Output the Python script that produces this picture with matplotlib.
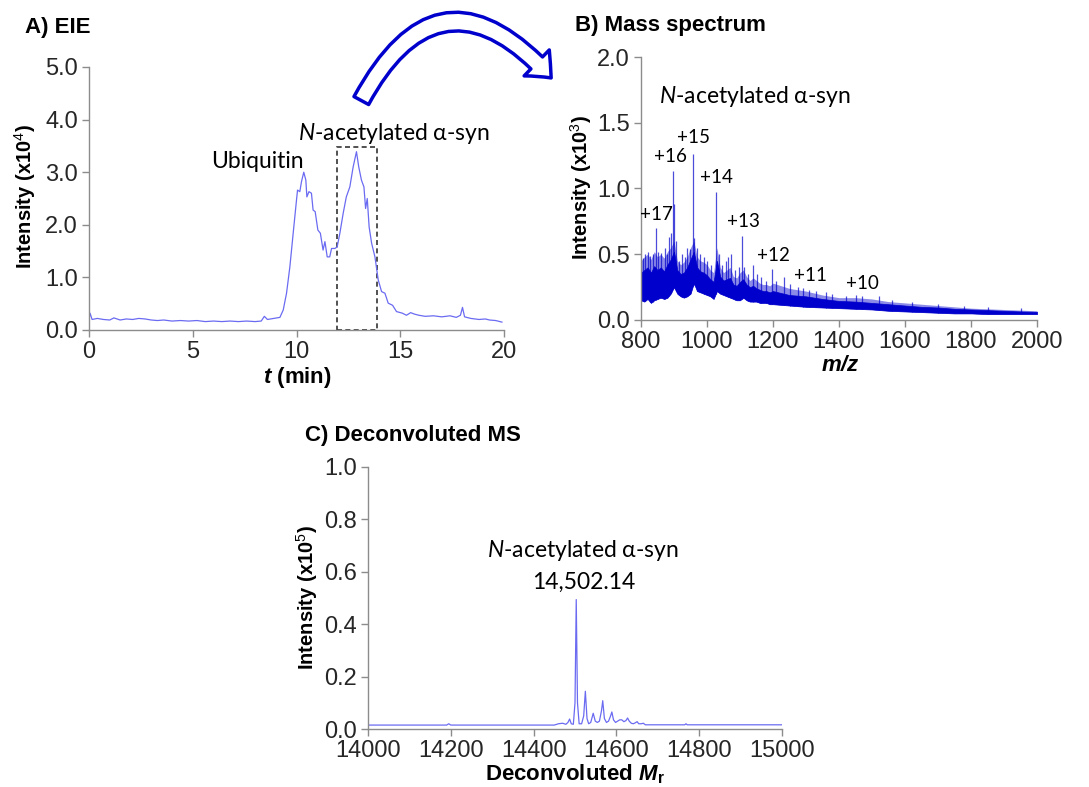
#three panel figure: EIE, mass spectrum, deconvoluted MS
import matplotlib
matplotlib.use("Agg")
import numpy as np
import matplotlib.pyplot as plt
from matplotlib.patches import FancyArrowPatch, Rectangle

plt.rcParams['font.family'] = ['Liberation Sans', 'DejaVu Sans']
plt.rcParams['mathtext.fontset'] = 'custom'
plt.rcParams['mathtext.rm'] = 'Liberation Sans'
plt.rcParams['mathtext.it'] = 'Lato:italic'
plt.rcParams['mathtext.bf'] = 'Liberation Sans:bold'
plt.rcParams['mathtext.bfit'] = 'Liberation Sans:bold:italic'

# A) EIE chromatogram (t in min, intensity x10^4)
eie_t = [0, 0.05, 0.15, 0.4, 0.7, 1.0, 1.2, 1.5, 1.8, 2.1, 2.4, 2.7, 3.0, 3.3, 3.6,
         4.0, 4.4, 4.8, 5.2, 5.6, 6.0, 6.4, 6.8, 7.2, 7.6, 8.0, 8.3, 8.45, 8.6, 8.9,
         9.2, 9.36, 9.52, 9.68, 9.84, 10.0, 10.05, 10.16, 10.24, 10.35, 10.45, 10.5,
         10.6, 10.72, 10.8, 10.9, 11.03, 11.15, 11.28, 11.37, 11.48, 11.6, 11.69,
         11.85, 11.96, 12.09, 12.25, 12.4, 12.57, 12.73, 12.89, 13.0, 13.13, 13.25,
         13.33, 13.41, 13.5, 13.62, 13.78, 13.94, 14.1, 14.26, 14.42, 14.63, 14.82,
         15.1, 15.3, 15.5, 15.7, 15.9, 16.2, 16.6, 17.0, 17.4, 17.7, 17.9, 18.0,
         18.1, 18.4, 18.8, 19.1, 19.3, 19.6, 19.9]
eie_i = [0.2, 0.32, 0.2, 0.22, 0.2, 0.19, 0.23, 0.19, 0.21, 0.2, 0.22, 0.21, 0.19,
         0.18, 0.19, 0.17, 0.18, 0.17, 0.18, 0.16, 0.17, 0.16, 0.17, 0.16, 0.17,
         0.16, 0.17, 0.26, 0.2, 0.22, 0.24, 0.38, 0.7, 1.2, 1.84, 2.47, 2.66, 2.63,
         2.82, 3.0, 2.85, 2.53, 2.63, 2.6, 2.28, 2.25, 1.9, 1.84, 1.52, 1.68, 1.39,
         1.39, 1.55, 1.55, 1.58, 1.84, 2.22, 2.53, 2.72, 3.1, 3.39, 3.1, 2.85, 2.72,
         2.31, 2.5, 1.96, 1.65, 1.39, 0.95, 0.73, 0.7, 0.51, 0.47, 0.35, 0.32, 0.28,
         0.33, 0.3, 0.28, 0.26, 0.27, 0.25, 0.27, 0.24, 0.28, 0.43, 0.25, 0.22, 0.2,
         0.21, 0.19, 0.18, 0.15]

# B) mass spectrum: noise band (lower / dense core / light top) and spike peaks
ms_mz = [800, 810, 820, 830, 840, 850, 860, 870, 880, 890, 900, 910, 920, 930, 940,
         950, 960, 970, 980, 990, 1000, 1010, 1020, 1030, 1040, 1050, 1060, 1070,
         1080, 1090, 1100, 1110, 1120, 1130, 1140, 1150, 1160, 1170, 1180, 1190,
         1200, 1250, 1300, 1350, 1400, 1450, 1500, 1550, 1600, 1650, 1700, 1750,
         1800, 1850, 1900, 1950, 2000]
ms_lo = [0.15, 0.14, 0.16, 0.13, 0.15, 0.16, 0.17, 0.16, 0.17, 0.2, 0.25, 0.2, 0.18,
         0.17, 0.18, 0.2, 0.28, 0.22, 0.21, 0.2, 0.19, 0.18, 0.16, 0.22, 0.2, 0.19,
         0.18, 0.17, 0.16, 0.15, 0.15, 0.17, 0.15, 0.14, 0.14, 0.14, 0.13, 0.13,
         0.13, 0.12, 0.12, 0.11, 0.1, 0.095, 0.09, 0.085, 0.08, 0.07, 0.065, 0.06,
         0.055, 0.05, 0.05, 0.045, 0.045, 0.045, 0.045]
ms_core = [0.36, 0.38, 0.40, 0.36, 0.41, 0.38, 0.40, 0.37, 0.42, 0.46, 0.52, 0.38,
           0.35, 0.36, 0.40, 0.46, 0.52, 0.40, 0.37, 0.36, 0.34, 0.31, 0.29, 0.45,
           0.33, 0.30, 0.31, 0.32, 0.27, 0.26, 0.29, 0.31, 0.27, 0.25, 0.26, 0.24,
           0.23, 0.22, 0.22, 0.21, 0.22, 0.19, 0.18, 0.16, 0.145, 0.14, 0.13, 0.12,
           0.11, 0.10, 0.095, 0.085, 0.08, 0.075, 0.07, 0.065, 0.062]
ms_hi = [0.45, 0.48, 0.5, 0.46, 0.52, 0.48, 0.5, 0.47, 0.52, 0.55, 0.6, 0.45, 0.42,
         0.44, 0.48, 0.55, 0.6, 0.48, 0.45, 0.44, 0.42, 0.38, 0.36, 0.55, 0.4, 0.36,
         0.38, 0.4, 0.33, 0.32, 0.36, 0.38, 0.33, 0.3, 0.32, 0.3, 0.28, 0.27, 0.27,
         0.26, 0.28, 0.24, 0.22, 0.19, 0.17, 0.17, 0.16, 0.14, 0.13, 0.12, 0.11,
         0.1, 0.09, 0.085, 0.08, 0.075, 0.07]
spike_mz = [805, 812, 820, 828, 835, 845, 852, 860, 872, 878, 885, 891, 897, 900,
            906, 915, 925, 933, 940, 948, 957, 962, 970, 978, 990, 1000, 1012, 1026,
            1035, 1045, 1058, 1065, 1072, 1085, 1097, 1105, 1112, 1125, 1140, 1150,
            1165, 1180, 1197, 1210, 1232, 1250, 1275, 1290, 1308, 1330, 1360, 1380,
            1420, 1450, 1470, 1520, 1560, 1620, 1700, 1780, 1850, 1950]
spike_i = [0.47, 0.5, 0.52, 0.49, 0.5, 0.7, 0.52, 0.51, 0.55, 0.5, 0.63, 0.66, 1.13,
           0.88, 0.6, 0.45, 0.5, 0.48, 0.55, 0.54, 1.26, 0.62, 0.55, 0.5, 0.48, 0.45,
           0.42, 0.97, 0.5, 0.42, 0.45, 0.48, 0.5, 0.38, 0.4, 0.64, 0.4, 0.35, 0.42,
           0.35, 0.33, 0.3, 0.39, 0.3, 0.33, 0.27, 0.25, 0.24, 0.23, 0.22, 0.21, 0.2,
           0.18, 0.19, 0.18, 0.18, 0.15, 0.14, 0.12, 0.11, 0.1, 0.09]
charge_labels = ['+17', '+16', '+15', '+14', '+13', '+12', '+11', '+10']
charge_x = [846, 889, 959, 1028, 1110, 1201, 1314, 1470]
charge_y = [0.80, 1.24, 1.39, 1.08, 0.75, 0.49, 0.34, 0.28]

# C) deconvoluted spectrum (Mr, intensity x10^5)
dec_m = [14000, 14190, 14195, 14200, 14450, 14460, 14470, 14478, 14483, 14487,
         14491, 14496, 14500, 14503, 14506, 14510, 14516, 14521, 14525, 14529,
         14533, 14538, 14544, 14549, 14554, 14559, 14564, 14567, 14571, 14576,
         14581, 14586, 14589, 14593, 14598, 14603, 14608, 14613, 14618, 14623,
         14627, 14631, 14636, 14641, 14646, 14650, 14654, 14660, 14665, 14670,
         14765, 14768, 14771, 15000]
dec_i = [0.015, 0.015, 0.02, 0.015, 0.015, 0.02, 0.022, 0.018, 0.025, 0.038, 0.02,
         0.018, 0.1, 0.494, 0.1, 0.02, 0.02, 0.05, 0.144, 0.04, 0.02, 0.025, 0.06,
         0.03, 0.025, 0.03, 0.07, 0.108, 0.04, 0.025, 0.03, 0.05, 0.065, 0.035,
         0.025, 0.03, 0.035, 0.035, 0.028, 0.032, 0.042, 0.03, 0.022, 0.02, 0.024,
         0.028, 0.02, 0.02, 0.022, 0.016, 0.016, 0.02, 0.016, 0.016]

W, H = 1089, 787
fig = plt.figure(figsize=(W / 100, H / 100), dpi=100)


def px(x, y):
    return (x / W, 1 - y / H)


def add_ax(left, top, right, bottom):
    ax = fig.add_axes([left / W, 1 - bottom / H, (right - left) / W, (bottom - top) / H])
    for s in ['top', 'right']:
        ax.spines[s].set_visible(False)
    for s in ['left', 'bottom']:
        ax.spines[s].set_color('#8c8c8c')
        ax.spines[s].set_linewidth(1.0)
    ax.tick_params(direction='out', length=5, width=1, color='#8c8c8c',
                   labelsize=17, labelcolor='#262626', pad=3)
    return ax


light_blue = '#6b6bf2'
dark_blue = '#0000cc'
calibri = ['Lato', 'DejaVu Sans']

# panel A
axA = add_ax(89, 67, 504, 330)
axA.plot(eie_t, eie_i, color=light_blue, lw=0.9)
axA.add_patch(Rectangle((11.95, 0), 1.95, 3.48, fill=False, ls=(0, (3, 2)),
                        lw=1.2, ec='#333333'))
axA.set_xlim(0, 20)
axA.set_ylim(0, 5)
axA.set_xticks([0, 5, 10, 15, 20])
axA.set_yticks([0, 1, 2, 3, 4, 5])
axA.set_yticklabels(['0.0', '1.0', '2.0', '3.0', '4.0', '5.0'])
axA.text(8.1, 3.2, 'Ubiquitin', ha='center', va='center', fontsize=16.5, family=calibri)
axA.text(10.07, 3.73, r'$N$-acetylated α-syn', ha='left', va='center', fontsize=16.5,
         family=calibri)

# panel B
axB = add_ax(641, 57, 1037, 320)
axB.fill_between(ms_mz, ms_lo, ms_hi, color=dark_blue, lw=0, alpha=0.45)
axB.fill_between(ms_mz, ms_lo, ms_core, color=dark_blue, lw=0.5)
spike_base = np.interp(spike_mz, ms_mz, ms_lo)
axB.vlines(spike_mz, spike_base, spike_i, color=dark_blue, lw=0.9, alpha=0.7)
axB.set_xlim(800, 2000)
axB.set_ylim(0, 2)
axB.set_xticks(range(800, 2001, 200))
axB.set_yticks([0, 0.5, 1.0, 1.5, 2.0])
axB.set_yticklabels(['0.0', '0.5', '1.0', '1.5', '2.0'])
for lab, x, y in zip(charge_labels, charge_x, charge_y):
    axB.text(x, y, lab, ha='center', va='center', fontsize=13.5, family=calibri)
axB.text(855, 1.70, r'$N$-acetylated α-syn', ha='left', va='center', fontsize=16.5,
         family=calibri)

# panel C
axC = add_ax(368, 467, 782, 729)
axC.plot(dec_m, dec_i, color=light_blue, lw=0.9)
axC.set_xlim(14000, 15000)
axC.set_ylim(0, 1)
axC.set_xticks(range(14000, 15001, 200))
axC.set_yticks([0, 0.2, 0.4, 0.6, 0.8, 1.0])
axC.set_yticklabels(['0.0', '0.2', '0.4', '0.6', '0.8', '1.0'])
axC.text(14520, 0.68, r'$N$-acetylated α-syn', ha='center', va='center',
         fontsize=16.5, family=calibri)
axC.text(14520, 0.56, '14,502.14', ha='center', va='center', fontsize=16.5,
         family=calibri)

# titles and axis labels
fig.text(*px(25, 27), 'A) EIE', fontsize=16, weight='bold', va='center')
fig.text(*px(575, 26), 'B) Mass spectrum', fontsize=16, weight='bold', va='center')
fig.text(*px(305, 435), 'C) Deconvoluted MS', fontsize=16, weight='bold', va='center')

fig.text(*px(25, 197), r'Intensity (x10$^{4}$)', fontsize=14.5, weight='bold',
         rotation=90, ha='center', va='center')
fig.text(*px(581, 188), r'Intensity (x10$^{3}$)', fontsize=14.5, weight='bold',
         rotation=90, ha='center', va='center')
fig.text(*px(307, 598), r'Intensity (x10$^{5}$)', fontsize=14.5, weight='bold',
         rotation=90, ha='center', va='center')

fig.text(*px(297, 378), r'$\mathbfit{t}$ (min)', fontsize=16, weight='bold',
         ha='center', va='center')
fig.text(*px(840, 366), r'$\mathbfit{m/z}$', fontsize=16, weight='bold',
         ha='center', va='center')
fig.text(*px(575, 774), r'Deconvoluted $\mathbfit{M}_\mathbf{r}$', fontsize=16,
         weight='bold', ha='center', va='center')

# curved hollow arrow from panel A to panel B
arrow = FancyArrowPatch(px(360, 103), px(553, 80), transform=fig.transFigure,
                        connectionstyle='arc3,rad=-0.72',
                        arrowstyle='simple,head_width=26,head_length=15,tail_width=12',
                        fc='white', ec=dark_blue, lw=2.5, mutation_scale=1)
fig.patches.append(arrow)

fig.savefig('out.png', dpi=100)
